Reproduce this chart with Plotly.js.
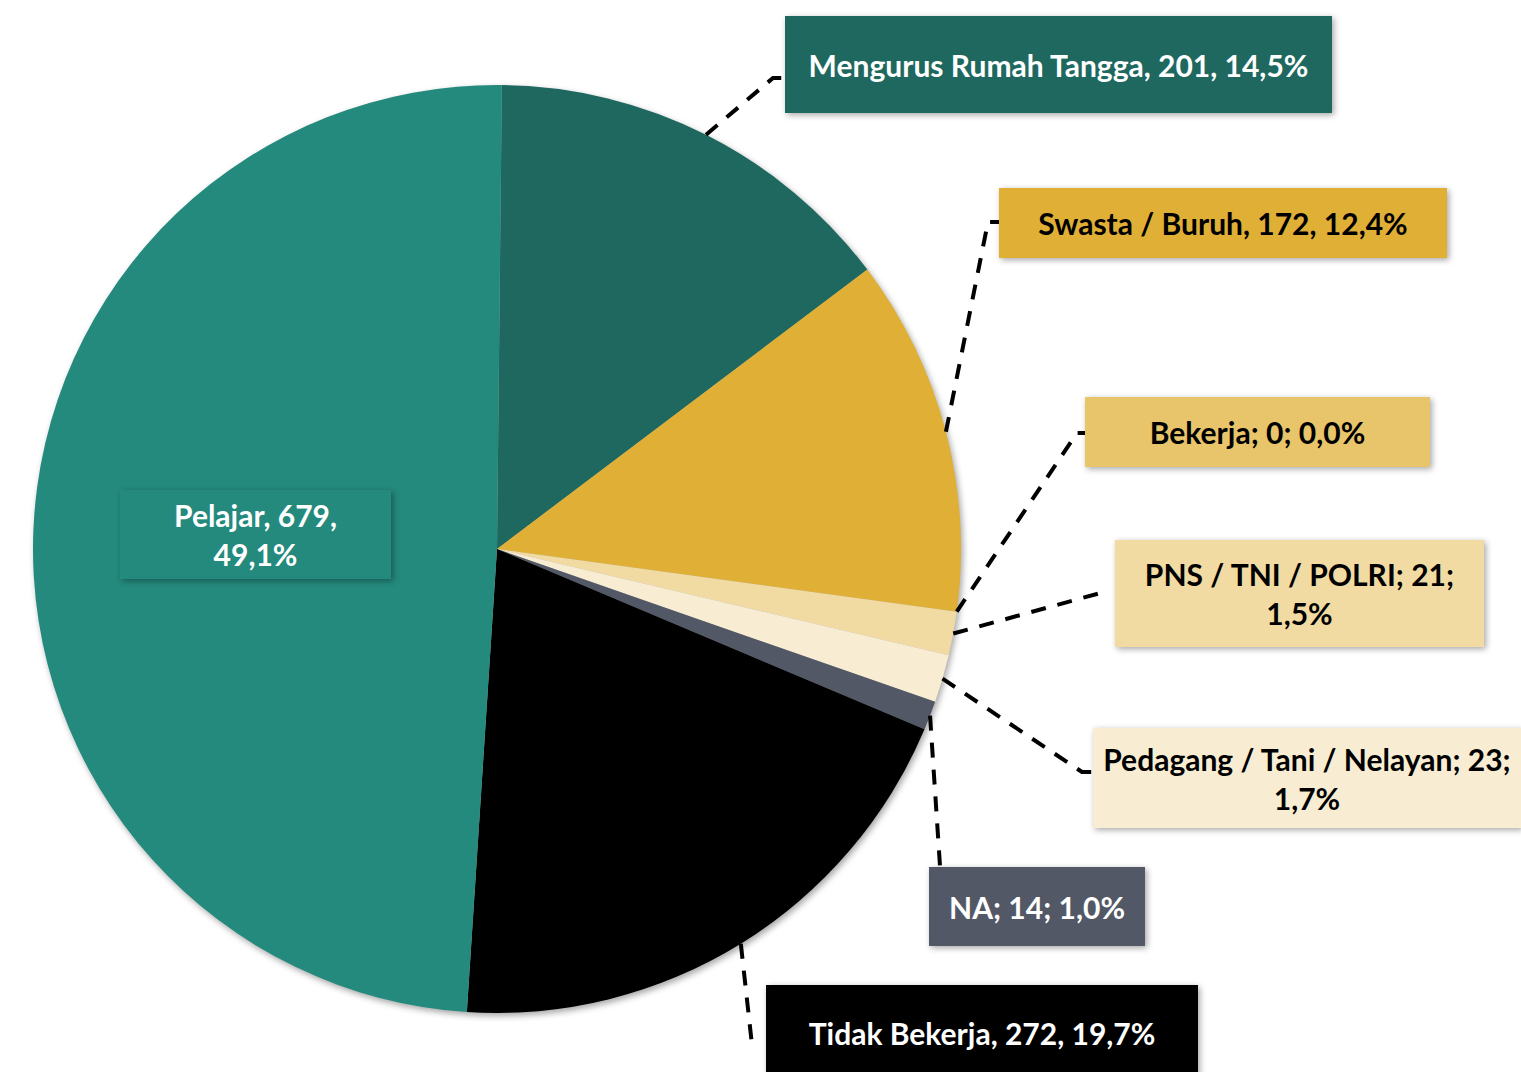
<!DOCTYPE html>
<html><head><meta charset="utf-8">
<script src="https://cdn.plot.ly/plotly-3.0.1.min.js"></script>
<style>
html,body{margin:0;padding:0;background:#fff;}
#chart{width:1521px;height:1072px;}
g.pielayer{filter:drop-shadow(2px 3px 3px rgba(0,0,0,0.35));}
g.annotation rect.bg{filter:drop-shadow(2px 2px 3px rgba(0,0,0,0.35));}
</style></head><body><div id="chart"></div><script>
// ---- data ----
const categories = ["Mengurus Rumah Tangga","Swasta / Buruh","Bekerja","PNS / TNI / POLRI","Pedagang / Tani / Nelayan","NA","Tidak Bekerja","Pelajar"];
const counts = [201,172,0,21,23,14,272,679];
const separators = [", ", ", ", "; ", "; ", "; ", "; ", ", ", ", "];
const breakBeforePct = [false,false,false,true,true,false,false,true];
const sliceColors = ["#1E6860","#E0B036","#E8C46A","#F2DBA3","#F8EDD3","#525866","#000000","#248A7D"];
const labelTextColors = ["#ffffff","#000000","#000000","#000000","#000000","#ffffff","#ffffff","#ffffff"];

// ---- layout constants (pixels) ----
const W = 1521, H = 1072;
const pieCx = 497, pieCy = 549, pieR = 464;
const rotationDeg = 0.6;
// label boxes: [x0, y0, x1, y1]
const boxes = [
  [785,16,1332,113],
  [999,188,1447,258],
  [1085,397,1430,467],
  [1115,540,1484,647],
  [1093,728,1521,828],
  [929,867,1145,946],
  [766,985,1198,1081],
  [120,490,391,579]
];
// leader line waypoints after the slice anchor (null = no leader)
const leaderPts = [
  [[773,78],[785,78]],
  [[988,222],[999,222]],
  [[1077,433],[1085,433]],
  [[1104,592]],
  [[1082,772],[1093,772]],
  [[940,866]],
  [[752,1045]],
  null
];

const px = x => x / W;
const py = y => 1 - y / H;

const total = counts.reduce((a,b)=>a+b,0);
const pctText = v => (v/total*100).toFixed(1).replace('.', ',') + '%';

const labels = categories.map((c,i) => {
  const sep = separators[i];
  const head = c + sep + counts[i] + sep.trimEnd();
  return breakBeforePct[i] ? head + '<br>' + pctText(counts[i]) : c + sep + counts[i] + sep + pctText(counts[i]);
});

// slice mid-angles (clockwise from 12 o'clock)
let cum = 0;
const midAngles = counts.map(v => {
  const a0 = cum; cum += v/total*360;
  return rotationDeg + (a0 + cum)/2;
});

const shapes = [];
const annotations = [];
categories.forEach((c,i) => {
  const b = boxes[i];
  annotations.push({
    xref:'paper', yref:'paper', x:px(b[0]), y:py(b[1]), xanchor:'left', yanchor:'top',
    width:b[2]-b[0], height:b[3]-b[1], showarrow:false, align:'center', valign:'middle',
    text:labels[i], bgcolor:sliceColors[i], borderwidth:0, borderpad:0,
    font:{family:'Lato, "Open Sans", sans-serif', size:30, weight:700, color:labelTextColors[i]}
  });
  if (leaderPts[i]) {
    const a = midAngles[i]*Math.PI/180;
    const sx = pieCx + pieR*Math.sin(a), sy = pieCy - pieR*Math.cos(a);
    let d = 'M ' + px(sx) + ',' + py(sy);
    leaderPts[i].forEach(p => { d += ' L ' + px(p[0]) + ',' + py(p[1]); });
    shapes.push({type:'path', xref:'paper', yref:'paper', path:d,
      line:{color:'#000', width:4, dash:'15px,12px'}});
  }
});

const trace = {
  type:'pie', labels:categories, values:counts, sort:false, direction:'clockwise',
  rotation:rotationDeg, textinfo:'none', hoverinfo:'label+value+percent',
  marker:{colors:sliceColors, line:{width:0}},
  domain:{x:[(pieCx-pieR)/W,(pieCx+pieR)/W], y:[1-(pieCy+pieR)/H, 1-(pieCy-pieR)/H]},
  showlegend:false
};

Plotly.newPlot('chart',[trace],{
  width:W, height:H, margin:{l:0,r:0,t:0,b:0},
  paper_bgcolor:'#ffffff', showlegend:false,
  shapes:shapes, annotations:annotations
},{displayModeBar:false, staticPlot:true});
</script></body></html>
